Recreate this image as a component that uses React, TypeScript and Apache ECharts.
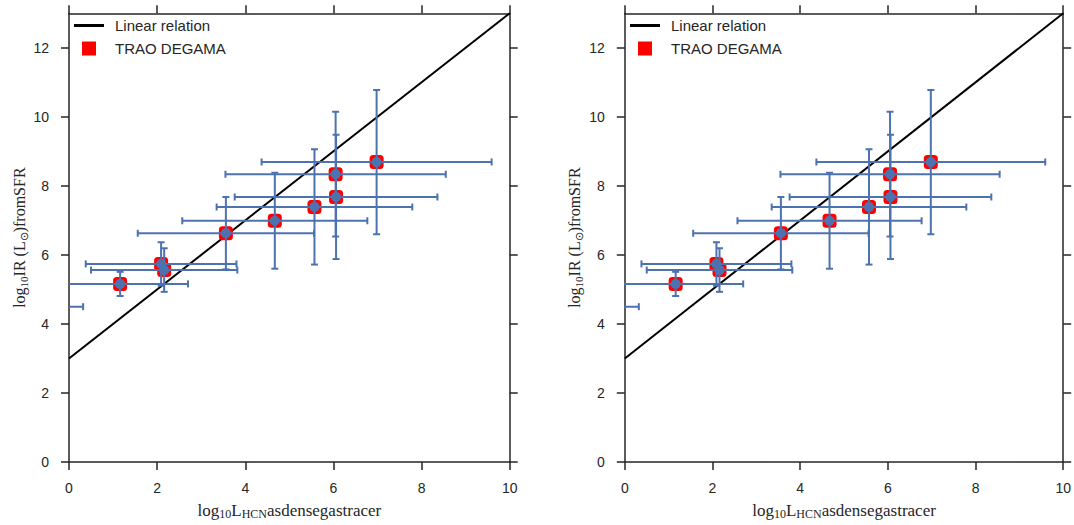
import React, { useEffect, useRef } from "react";
import * as echarts from "echarts";

const xVals = [-1.3, 1.16, 2.09, 2.16, 3.56, 4.67, 5.57, 6.06, 6.05, 6.98];
const yVals = [4.5, 5.16, 5.74, 5.56, 6.63, 6.99, 7.39, 7.68, 8.34, 8.69];
const xErr = [1.62, 1.54, 1.71, 1.66, 2.0, 2.1, 2.22, 2.3, 2.5, 2.61];
const yErr = [0.5, 0.35, 0.63, 0.63, 1.05, 1.39, 1.67, 1.8, 1.81, 2.09];
const lineX = [0, 10];
const lineY = [3, 13];
const xTicks = [0, 2, 4, 6, 8, 10];
const yTicks = [0, 2, 4, 6, 8, 10, 12];

const AX = "#262626";
const BLUE = "#4C72B0";
const SANS = "Liberation Sans";
const SERIF = "Liberation Serif";

const makeRich = (fs: number, ss: number) => ({
  n: { fontFamily: SERIF, fontSize: fs, color: "#262626", lineHeight: 20 },
  s: { fontFamily: SERIF, fontSize: ss, color: "#262626", lineHeight: 12, verticalAlign: "bottom" },
});

function buildOption() {
  const grids = [
    { left: 69, top: 13.3, width: 440.7, height: 452.4 },
    { left: 624.8, top: 13.3, width: 440.7, height: 452.4 },
  ];
  const xAxes: any[] = [];
  const yAxes: any[] = [];
  grids.forEach((_, gi) => {
    const tick = { show: true, inside: false, length: 8, lineStyle: { color: AX, width: 1.5 } };
    const base = {
      type: "value",
      gridIndex: gi,
      min: 0,
      axisLine: { show: true, onZero: false, lineStyle: { color: AX, width: 1.5 } },
      splitLine: { show: false },
    };
    xAxes.push({
      ...base,
      position: "bottom",
      max: 10,
      interval: 2,
      axisTick: { ...tick, customValues: xTicks },
      axisLabel: { show: true, customValues: xTicks, color: AX, fontFamily: SANS, fontSize: 14, margin: 19 },
      name: "{n|log}{s|10}{n|L}{s|HCN}{n|asdensegastracer}",
      nameLocation: "middle",
      nameGap: 38,
      nameTextStyle: { rich: makeRich(17, 12) },
    });
    xAxes.push({
      ...base,
      position: "top",
      max: 10,
      interval: 2,
      axisTick: { ...tick, customValues: xTicks },
      axisLabel: { show: false },
    });
    yAxes.push({
      ...base,
      position: "left",
      max: 13,
      interval: 2,
      axisTick: { ...tick, customValues: yTicks },
      axisLabel: { show: true, customValues: yTicks, color: AX, fontFamily: SANS, fontSize: 14, margin: 20 },
      name: "{n|log}{s|10}{n|IR (L}{s|⊙}{n|)fromSFR}",
      nameLocation: "middle",
      nameGap: 40,
      nameRotate: 90,
      nameTextStyle: { rich: makeRich(16, 11) },
    });
    yAxes.push({
      ...base,
      position: "right",
      max: 13,
      interval: 2,
      axisTick: { ...tick, customValues: yTicks },
      axisLabel: { show: false },
    });
  });

  const pts = xVals.map((x, i) => [x, yVals[i]]);
  const errData = xVals.map((x, i) => [x, yVals[i], xErr[i], yErr[i]]);
  const linePts = lineX.map((x, i) => [x, lineY[i]]);

  const renderErr = (params: any, api: any) => {
    const x = api.value(0);
    const y = api.value(1);
    const ex = api.value(2);
    const ey = api.value(3);
    const l = api.coord([x - ex, y]);
    const r = api.coord([x + ex, y]);
    const t = api.coord([x, y + ey]);
    const b = api.coord([x, y - ey]);
    const cap = 3.5;
    const st = { stroke: BLUE, lineWidth: 2 };
    const mk = (x1: number, y1: number, x2: number, y2: number) => ({
      type: "line",
      shape: { x1, y1, x2, y2 },
      style: st,
    });
    return {
      type: "group",
      children: [
        mk(l[0], l[1], r[0], r[1]),
        mk(l[0], l[1] - cap, l[0], l[1] + cap),
        mk(r[0], r[1] - cap, r[0], r[1] + cap),
        mk(t[0], t[1], b[0], b[1]),
        mk(t[0] - cap, t[1], t[0] + cap, t[1]),
        mk(b[0] - cap, b[1], b[0] + cap, b[1]),
      ],
    };
  };

  const series: any[] = [];
  [0, 2].forEach((ai) => {
    series.push({
      name: "Linear relation",
      type: "line",
      xAxisIndex: ai,
      yAxisIndex: ai,
      data: linePts,
      symbol: "none",
      lineStyle: { color: "#000", width: 2 },
      itemStyle: { color: "#000" },
      z: 2,
    });
    series.push({
      name: "TRAO DEGAMA",
      type: "scatter",
      xAxisIndex: ai,
      yAxisIndex: ai,
      data: pts,
      symbol: "roundRect",
      symbolSize: 14,
      itemStyle: { color: "#ff0000", opacity: 1 },
      clip: true,
      z: 3,
    });
    series.push({
      type: "custom",
      xAxisIndex: ai,
      yAxisIndex: ai,
      data: errData,
      renderItem: renderErr,
      clip: true,
      z: 4,
    });
    series.push({
      type: "scatter",
      xAxisIndex: ai,
      yAxisIndex: ai,
      data: pts,
      symbol: "circle",
      symbolSize: 10,
      itemStyle: { color: BLUE, opacity: 1 },
      clip: true,
      z: 5,
    });
  });

  const legendBase = (left: number) => ({
    left,
    top: 13,
    orient: "vertical",
    itemWidth: 30,
    itemHeight: 14,
    itemGap: 8,
    selectedMode: false,
    textStyle: { color: "#262626", fontFamily: SANS, fontSize: 15, padding: [0, 0, 0, 6] },
    data: [
      { name: "Linear relation", icon: "path://M0,0.45H1V0.55H0Z" },
      { name: "TRAO DEGAMA", icon: "path://M0,0H1V1H0Z" },
    ],
  });

  return {
    animation: false,
    backgroundColor: "#fff",
    grid: grids,
    xAxis: xAxes,
    yAxis: yAxes,
    legend: [legendBase(69), legendBase(625)],
    series,
  };
}

export default function App() {
  const ref = useRef<HTMLDivElement>(null);
  useEffect(() => {
    if (!ref.current) return;
    const chart = echarts.init(ref.current, null, { renderer: "svg" });
    chart.setOption(buildOption() as any);
    return () => chart.dispose();
  }, []);
  return (
    <div
      ref={ref}
      style={{ position: "fixed", left: 0, top: 0, width: 1074, height: 525, background: "#fff" }}
    />
  );
}
